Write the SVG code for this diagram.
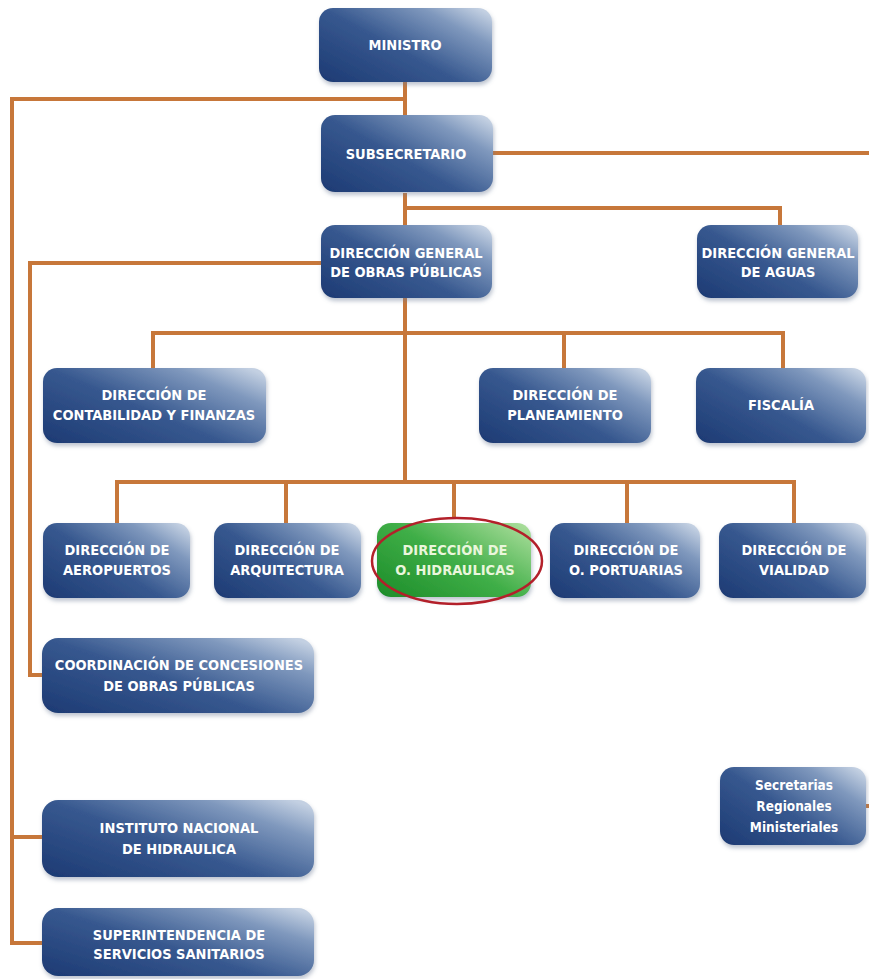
<svg xmlns="http://www.w3.org/2000/svg" width="869" height="979" viewBox="0 0 869 979">
<defs>
<linearGradient id="gBlue" x1="0" y1="0.9" x2="1" y2="0.1">
<stop offset="0" stop-color="#1f3d76"/>
<stop offset="0.45" stop-color="#37588f"/>
<stop offset="0.8" stop-color="#7f98bd"/>
<stop offset="1" stop-color="#c3d0e2"/>
</linearGradient>
<linearGradient id="gGreen" x1="0" y1="0.9" x2="1" y2="0.1">
<stop offset="0" stop-color="#1f8f2c"/>
<stop offset="0.5" stop-color="#3fae47"/>
<stop offset="1" stop-color="#a6dc98"/>
</linearGradient>
<filter id="sh" x="-10%" y="-10%" width="125%" height="135%">
<feDropShadow dx="1" dy="3" stdDeviation="2" flood-color="#6c7d96" flood-opacity="0.45"/>
</filter>
</defs>
<style>
.box{fill:url(#gBlue);filter:url(#sh)}
.green{fill:url(#gGreen);filter:url(#sh)}
.t{font-family:"DejaVu Sans Condensed","DejaVu Sans",sans-serif;font-weight:bold;font-size:14.5px;fill:#ffffff;text-anchor:middle}
.ts{font-size:13.5px}
.tg{fill:#eaf6dc}
.c{fill:none;stroke:#c7773a;stroke-width:4}
.ell{fill:none;stroke:#b3202a;stroke-width:2.5}
</style>
<g id="connectors">
<path d="M405,82 V115 M405,99 H12 V943 H42 M12,837 H42 M493,153 H869 M405,193 V225 M405,208 H780 V225 M321,263 H30 V675 H42 M405,298 V482 M153,368 V333 H783 V368 M564,333 V368 M117,523 V482 H794 V523 M286,482 V523 M454,482 V519 M627,482 V523 M866,806 H869" class="c"/>
</g>
<g id="ministro"><rect class="box" x="319" y="8" width="173" height="74" rx="14"/><text class="t" x="405" y="50">MINISTRO</text></g>
<g id="subsecretario"><rect class="box" x="321" y="115" width="172" height="77" rx="14"/><text class="t" x="406" y="159">SUBSECRETARIO</text></g>
<g id="dgop"><rect class="box" x="321" y="225" width="171" height="73" rx="14"/><text class="t" x="406" y="258">DIRECCIÓN GENERAL</text><text class="t" x="406" y="277">DE OBRAS PÚBLICAS</text></g>
<g id="dga"><rect class="box" x="697" y="225" width="161" height="73" rx="14"/><text class="t" x="778" y="258">DIRECCIÓN GENERAL</text><text class="t" x="778" y="277">DE AGUAS</text></g>
<g id="dcf"><rect class="box" x="43" y="368" width="223" height="75" rx="14"/><text class="t" x="154" y="400">DIRECCIÓN DE</text><text class="t" x="154" y="420">CONTABILIDAD Y FINANZAS</text></g>
<g id="planeamiento"><rect class="box" x="479" y="368" width="172" height="75" rx="14"/><text class="t" x="565" y="400">DIRECCIÓN DE</text><text class="t" x="565" y="420">PLANEAMIENTO</text></g>
<g id="fiscalia"><rect class="box" x="696" y="368" width="170" height="75" rx="14"/><text class="t" x="781" y="410">FISCALÍA</text></g>
<g id="aeropuertos"><rect class="box" x="43" y="523" width="147" height="75" rx="14"/><text class="t" x="117" y="555">DIRECCIÓN DE</text><text class="t" x="117" y="575">AEROPUERTOS</text></g>
<g id="arquitectura"><rect class="box" x="214" y="523" width="147" height="75" rx="14"/><text class="t" x="287" y="555">DIRECCIÓN DE</text><text class="t" x="287" y="575">ARQUITECTURA</text></g>
<g id="hidraulicas"><rect class="green" x="377" y="523" width="154" height="74" rx="14"/><text class="t tg" x="455" y="555">DIRECCIÓN DE</text><text class="t tg" x="455" y="575">O. HIDRAULICAS</text><ellipse class="ell" cx="457" cy="561" rx="85" ry="43"/></g>
<g id="portuarias"><rect class="box" x="550" y="523" width="150" height="75" rx="14"/><text class="t" x="626" y="555">DIRECCIÓN DE</text><text class="t" x="626" y="575">O. PORTUARIAS</text></g>
<g id="vialidad"><rect class="box" x="719" y="523" width="147" height="75" rx="14"/><text class="t" x="794" y="555">DIRECCIÓN DE</text><text class="t" x="794" y="575">VIALIDAD</text></g>
<g id="coordinacion"><rect class="box" x="42" y="638" width="272" height="75" rx="16"/><text class="t" x="179" y="670">COORDINACIÓN DE CONCESIONES</text><text class="t" x="179" y="691">DE OBRAS PÚBLICAS</text></g>
<g id="instituto"><rect class="box" x="42" y="800" width="272" height="77" rx="16"/><text class="t" x="179" y="833">INSTITUTO NACIONAL</text><text class="t" x="179" y="854">DE HIDRAULICA</text></g>
<g id="superintendencia"><rect class="box" x="42" y="908" width="272" height="68" rx="16"/><text class="t" x="179" y="940">SUPERINTENDENCIA DE</text><text class="t" x="179" y="959">SERVICIOS SANITARIOS</text></g>
<g id="seremi"><rect class="box" x="720" y="767" width="146" height="78" rx="14"/><text class="t ts" x="794" y="790">Secretarias</text><text class="t ts" x="794" y="811">Regionales</text><text class="t ts" x="794" y="832">Ministeriales</text></g>
</svg>
